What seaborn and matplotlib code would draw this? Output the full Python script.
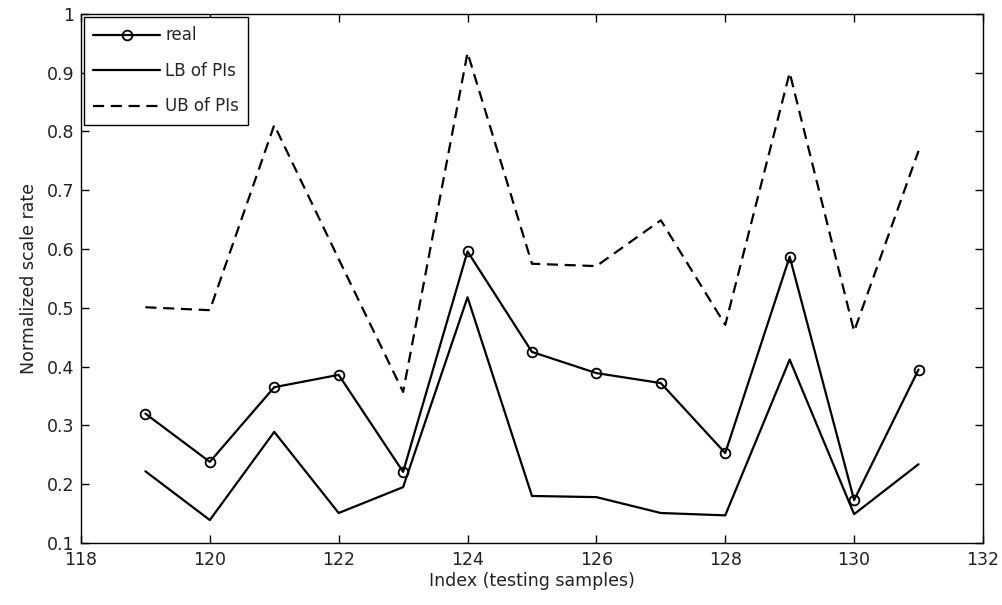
import seaborn as sns
import pandas as pd
from matplotlib import pyplot as plt

index = [119, 120, 121, 122, 123, 124, 125, 126, 127, 128, 129, 130, 131]
real = [0.320, 0.238, 0.365, 0.386, 0.221, 0.596, 0.425, 0.389, 0.372, 0.253, 0.587, 0.173, 0.395]
lb = [0.222, 0.139, 0.289, 0.151, 0.195, 0.518, 0.180, 0.178, 0.151, 0.147, 0.412, 0.149, 0.234]
ub = [0.501, 0.496, 0.811, 0.583, 0.357, 0.934, 0.575, 0.571, 0.649, 0.471, 0.900, 0.460, 0.767]

df = pd.DataFrame({'Index': index, 'real': real, 'LB of PIs': lb, 'UB of PIs': ub})

sns.set_style('ticks')
plt.rcParams['font.family'] = ['DejaVu Sans']

fig = plt.figure(figsize=(10.02, 6.05), dpi=100)
ax = fig.add_axes([0.0808, 0.1025, 0.9002, 0.8745])

sns.lineplot(data=df, x='Index', y='real', ax=ax, color='black', linewidth=1.6,
             marker='o', markersize=7, markerfacecolor='none', markeredgecolor='black',
             markeredgewidth=1.3, label='real')
sns.lineplot(data=df, x='Index', y='LB of PIs', ax=ax, color='black', linewidth=1.6,
             label='LB of PIs')
sns.lineplot(data=df, x='Index', y='UB of PIs', ax=ax, color='black', linewidth=1.6,
             linestyle=(0, (5, 3)), label='UB of PIs')

ax.set_xlim(118, 132)
ax.set_ylim(0.1, 1)
ax.set_xticks(range(118, 133, 2))
ax.set_yticks([0.1, 0.2, 0.3, 0.4, 0.5, 0.6, 0.7, 0.8, 0.9, 1])
ax.set_yticklabels(['0.1', '0.2', '0.3', '0.4', '0.5', '0.6', '0.7', '0.8', '0.9', '1'])
ax.tick_params(direction='in', top=True, right=True, length=6, width=1,
               labelsize=12.5, colors='black', labelcolor='#222222')
ax.tick_params(axis='x', pad=6)
ax.tick_params(axis='y', pad=5)
for s in ax.spines.values():
    s.set_linewidth(1)
    s.set_color('black')

ax.set_xlabel('Index (testing samples)', fontsize=12.5, labelpad=2, color='#222222')
ax.set_ylabel('Normalized scale rate', fontsize=12.5, labelpad=6, color='#222222')

leg = ax.legend(loc='upper left', frameon=True, fancybox=False,
                edgecolor='black', framealpha=1, handlelength=4.0,
                borderaxespad=0.2, borderpad=0.55, labelspacing=1.05, handletextpad=0.3,
                prop={'size': 12})
leg.get_frame().set_linewidth(1)

plt.savefig('out.png', dpi=100)
